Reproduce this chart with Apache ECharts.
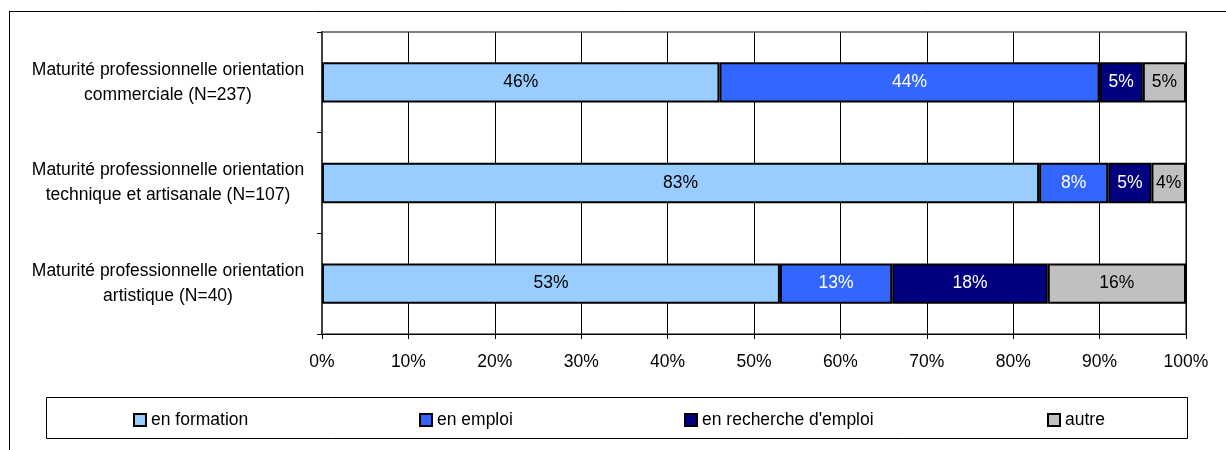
<!DOCTYPE html>
<html>
<head>
<meta charset="utf-8">
<script src="https://cdn.jsdelivr.net/npm/echarts@6/dist/echarts.min.js"></script>
<style>
  html, body { margin: 0; padding: 0; background: #fff; }
  #chart { width: 1226px; height: 450px; }
</style>
</head>
<body>
<div id="chart"></div>
<script>
  // data, in percent
  const categories = [
    'Maturité professionnelle orientation\ncommerciale (N=237)',
    'Maturité professionnelle orientation\ntechnique et artisanale (N=107)',
    'Maturité professionnelle orientation\nartistique (N=40)'
  ];
  const seriesNames = ['en formation', 'en emploi', "en recherche d'emploi", 'autre'];
  const enFormation = [46, 83, 53];
  const enEmploi = [44, 8, 13];
  const enRecherche = [5, 5, 18];
  const autre = [5, 4, 16];
  const tickValues = [0, 10, 20, 30, 40, 50, 60, 70, 80, 90, 100];

  const FONT = '"Liberation Sans Narrow", "Arial Narrow", "Liberation Sans", Arial, sans-serif';
  const colors = ['#99CCFF', '#3366FF', '#000080', '#C0C0C0'];
  const labelColors = ['#000', '#fff', '#fff', '#000'];
  const values = [enFormation, enEmploi, enRecherche, autre];
  const legendLeft = [133, 419, 684, 1047];

  let mychart = echarts.init(document.getElementById('chart'));

  const series = seriesNames.map((name, i) => ({
    name: name,
    type: 'bar',
    stack: 'total',
    barWidth: '40%',
    data: values[i],
    itemStyle: { color: colors[i], borderColor: '#000', borderWidth: 2 },
    label: {
      show: true,
      position: 'inside',
      formatter: p => p.value + '%',
      color: labelColors[i],
      fontFamily: FONT,
      fontSize: 17.5
    },
    emphasis: { disabled: true }
  }));

  const legends = seriesNames.map((name, i) => ({
    data: [name],
    left: legendLeft[i],
    top: 411,
    padding: 0,
    icon: 'rect',
    itemWidth: 12,
    itemHeight: 12,
    itemStyle: { borderColor: '#000', borderWidth: 2 },
    textStyle: { fontFamily: FONT, fontSize: 17.5, color: '#000' },
    selectedMode: false
  }));

  const option = {
    animation: false,
    backgroundColor: '#fff',
    grid: {
      left: 322, right: 40, top: 32, bottom: 116,
      show: true,
      borderColor: '#808080',
      borderWidth: 2
    },
    xAxis: {
      type: 'value',
      min: tickValues[0],
      max: tickValues[tickValues.length - 1],
      interval: 10,
      axisLine: { show: true, lineStyle: { color: '#000', width: 1 } },
      axisTick: { show: true, length: 5, lineStyle: { color: '#000' } },
      splitLine: { show: true, lineStyle: { color: '#000', width: 1 } },
      axisLabel: {
        formatter: v => v + '%',
        color: '#000',
        fontFamily: FONT,
        fontSize: 17.5,
        margin: 19
      }
    },
    yAxis: {
      type: 'category',
      inverse: true,
      data: categories,
      axisLine: { show: true, lineStyle: { color: '#404040', width: 2 } },
      axisTick: { show: true, length: 5, lineStyle: { color: '#000' } },
      axisLabel: {
        color: '#000',
        fontFamily: FONT,
        fontSize: 17.5,
        lineHeight: 25,
        align: 'center',
        margin: 154
      }
    },
    legend: legends,
    graphic: [
      { type: 'line', shape: { x1: 9, y1: 11.5, x2: 1226, y2: 11.5 }, style: { stroke: '#000', lineWidth: 1 } },
      { type: 'line', shape: { x1: 9.5, y1: 11, x2: 9.5, y2: 450 }, style: { stroke: '#000', lineWidth: 1 } },
      { type: 'rect', shape: { x: 46.5, y: 397.5, width: 1141, height: 41 }, style: { fill: 'none', stroke: '#000', lineWidth: 1 } }
    ],
    series: series
  };
  mychart.setOption(option);
</script>
</body>
</html>
